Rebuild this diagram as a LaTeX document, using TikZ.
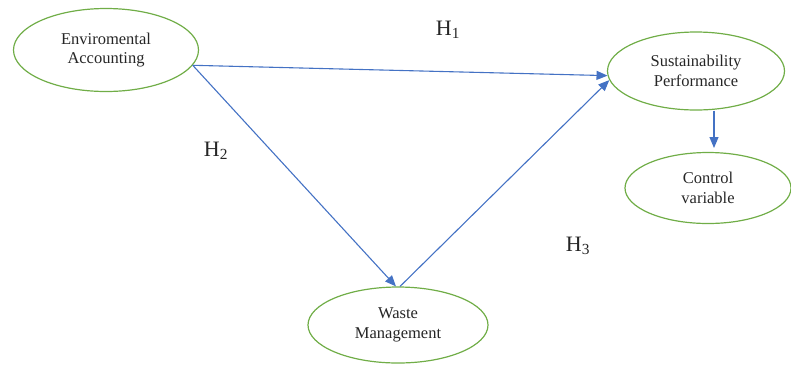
\documentclass[tikz,border=0pt]{standalone}
\usepackage{fontspec}
\setmainfont{Liberation Serif}
\usetikzlibrary{shapes.geometric,arrows.meta}
\definecolor{ovalgreen}{RGB}{112,173,71}
\definecolor{linkblue}{RGB}{68,114,196}
\tikzset{
  oval/.style={ellipse, draw=ovalgreen, line width=1.2pt, inner sep=0pt, align=center,
    text=black!85, font=\fontsize{16.5}{19.5}\selectfont},
  link/.style={linkblue, line width=1.1pt, -{Triangle[length=11pt,width=9pt]}},
  hyp/.style={text=black!85, font=\fontsize{22}{24}\selectfont}
}
\begin{document}
\begin{tikzpicture}[x=1pt,y=-1pt]
  \useasboundingbox (0,0) rectangle (791,365);

  % variables
  \node[oval, minimum width=185pt, minimum height=83pt] (ea) at (106,50) {Enviromental\\Accounting};
  \node[oval, minimum width=177pt, minimum height=78pt] (sp) at (696,71) {Sustainability\\Performance};
  \node[oval, minimum width=166pt, minimum height=71pt] (cv) at (708,188) {Control\\variable};
  \node[oval, minimum width=180pt, minimum height=76pt] (wm) at (398,325) {Waste\\Management};
  \coordinate (cvtop) at (714,148);

  % hypotheses
  \draw[link] (ea.-10) -- (sp.183);
  \draw[link] (ea.-10) -- (wm.93);
  \draw[link] (wm.87) -- (sp.186);
  \draw[link] (sp.south -| cvtop) -- (cvtop);

  \node[hyp] (h1) at (448,30) {H\textsubscript{1}};
  \node[hyp] (h2) at (216,151) {H\textsubscript{2}};
  \node[hyp] (h3) at (578,246) {H\textsubscript{3}};
\end{tikzpicture}
\end{document}
